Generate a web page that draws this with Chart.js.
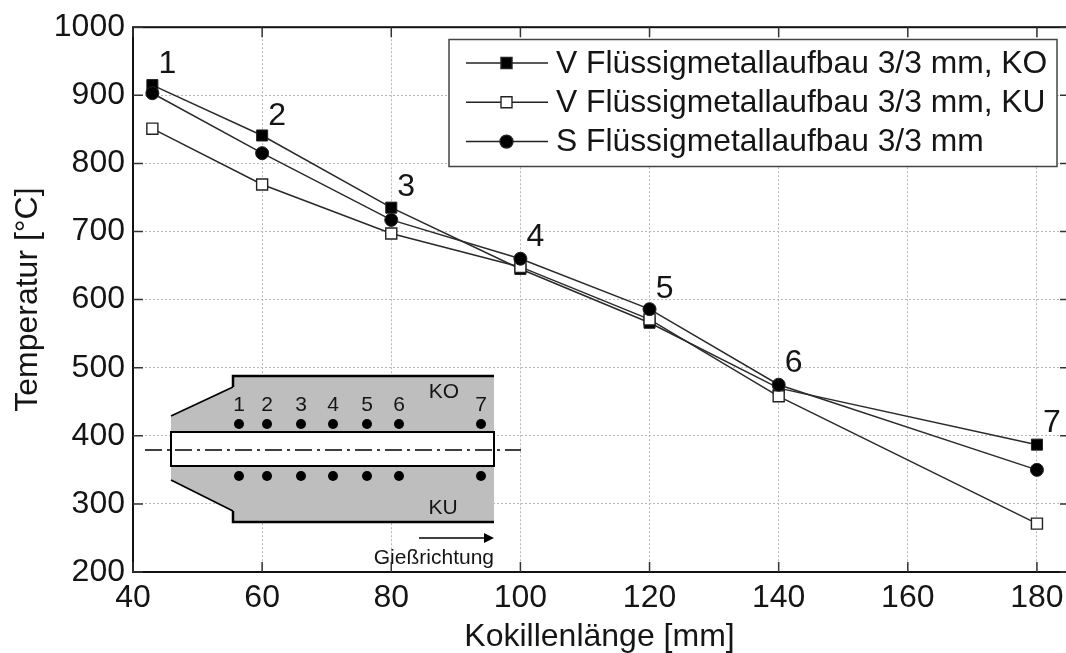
<!DOCTYPE html>
<html><head><meta charset="utf-8">
<style>html,body{margin:0;padding:0;background:#fff}canvas{display:block}</style>
<script src="https://cdn.jsdelivr.net/npm/chart.js@4"></script>
</head><body><canvas id="c" width="1066" height="653"></canvas>
<script>
const lengths=[43,60,80,100,120,140,180];
const seriesKO=[915,841,735,645,566,470,387];
const seriesKU=[851,769,697,648,571,458,271];
const seriesS=[903,815,717,660,586,475,350];
const labelKO="V Flüssigmetallaufbau 3/3 mm, KO";
const labelKU="V Flüssigmetallaufbau 3/3 mm, KU";
const labelS="S Flüssigmetallaufbau 3/3 mm";
const pointNumbers=["1","2","3","4","5","6","7"];
const numberOffsets=[[15,-21],[15,-19],[15,-20],[15,-32],[15,-34],[15,-25],[15,-21]];
const FONT='"Liberation Sans", Arial, sans-serif';
const INK='#151515';
const GRID='#b8b8b8';
const pts=a=>a.map((y,i)=>({x:lengths[i],y}));
const ds=(label,data,style,fill,r,order)=>({label,order,data:pts(data),borderColor:'#2a2a2a',borderWidth:1.5,tension:0,
  pointStyle:style,pointRadius:r,pointHoverRadius:r,pointBackgroundColor:fill,pointBorderColor:'#222',pointBorderWidth:style==='rect'&&fill==='#fff'?1.4:1,clip:false});
const extras={id:'extras',
 afterDraw(ch){
  const c=ch.ctx,a=ch.chartArea,X=ch.scales.x,Y=ch.scales.y,W=ch.width;
  c.save();
  c.strokeStyle=GRID;c.lineWidth=1;c.setLineDash([2,2]);
  Y.ticks.forEach(t=>{const p=Y.getPixelForValue(t.value);c.beginPath();c.moveTo(a.right,p);c.lineTo(W,p);c.stroke();});
  c.setLineDash([]);
  c.strokeStyle='#111';c.lineWidth=2;c.strokeRect(a.left,a.top,W+4-a.left,a.bottom-a.top);
  c.lineWidth=1.5;c.strokeStyle='#333';
  X.ticks.forEach(t=>{const p=X.getPixelForValue(t.value);c.beginPath();c.moveTo(p,a.bottom);c.lineTo(p,a.bottom-10);c.moveTo(p,a.top);c.lineTo(p,a.top+10);c.stroke();});
  Y.ticks.forEach(t=>{const p=Y.getPixelForValue(t.value);c.beginPath();c.moveTo(a.left,p);c.lineTo(a.left+10,p);c.moveTo(W,p);c.lineTo(W-6,p);c.stroke();});
  c.fillStyle=INK;c.font='32px '+FONT;c.textAlign='center';c.textBaseline='middle';
  pointNumbers.forEach((n,i)=>{c.fillText(n,X.getPixelForValue(lengths[i])+numberOffsets[i][0],Y.getPixelForValue(seriesKO[i])+numberOffsets[i][1]);});
  const L={x:449,y:39.5,w:608,h:127};
  c.fillStyle='#fff';c.fillRect(L.x,L.y,L.w,L.h);c.strokeStyle='#444';c.lineWidth=1.5;c.strokeRect(L.x,L.y,L.w,L.h);
  const rows=[[labelKO,'sq','#000'],[labelKU,'sq','#fff'],[labelS,'ci','#000']];
  rows.forEach((r,i)=>{const y=63+i*39.3;
    c.strokeStyle='#222';c.lineWidth=1.5;c.beginPath();c.moveTo(466,y);c.lineTo(548,y);c.stroke();
    c.fillStyle=r[2];c.strokeStyle='#222';c.lineWidth=1.4;c.beginPath();
    if(r[1]==='sq')c.rect(501,y-5.5,11,11);else c.arc(506.5,y,6.5,0,7);c.fill();c.stroke();
    c.fillStyle=INK;c.font='31.8px '+FONT;c.textAlign='left';c.fillText(r[0],556,y+1);});
  c.fillStyle='#bebebe';c.strokeStyle='#000';
  c.beginPath();c.moveTo(171,432);c.lineTo(171,416);c.lineTo(233,387);c.lineTo(233,376);c.lineTo(494,376);c.lineTo(494,432);c.closePath();c.fill();
  c.beginPath();c.moveTo(171,466);c.lineTo(171,480);c.lineTo(233,511);c.lineTo(233,522);c.lineTo(494,522);c.lineTo(494,466);c.closePath();c.fill();
  c.lineWidth=2.5;c.beginPath();c.moveTo(233,387);c.lineTo(233,376);c.lineTo(494,376);c.moveTo(233,511);c.lineTo(233,522);c.lineTo(494,522);c.stroke();
  c.lineWidth=1.8;c.beginPath();c.moveTo(171,416);c.lineTo(233,387);c.moveTo(171,480);c.lineTo(233,511);c.stroke();
  c.fillStyle='#fff';c.fillRect(171,432,323,34);c.lineWidth=2;c.strokeRect(171,432,323,34);
  c.setLineDash([17,5,3,5]);c.lineWidth=1.5;c.beginPath();c.moveTo(145,450);c.lineTo(521,450);c.stroke();c.setLineDash([]);
  const sensorX=[239,267,301,333,367,399,481];
  c.fillStyle='#000';sensorX.forEach(x=>{[424,476].forEach(y=>{c.beginPath();c.arc(x,y,5,0,7);c.fill();});});
  c.fillStyle=INK;c.font='21px '+FONT;c.textAlign='center';
  sensorX.forEach((x,i)=>c.fillText(pointNumbers[i],x,405));
  c.fillText('KO',444,392);c.fillText('KU',443,508);
  c.textAlign='right';c.fillText('Gießrichtung',494,558);
  c.fillStyle='#000';c.lineWidth=1.5;c.beginPath();c.moveTo(419,538);c.lineTo(486,538);c.stroke();
  c.beginPath();c.moveTo(494,538);c.lineTo(484,533);c.lineTo(484,543);c.closePath();c.fill();
  c.restore();
 }};
new Chart(document.getElementById('c'),{type:'line',plugins:[extras],
 data:{datasets:[ds(labelKO,seriesKO,'rect','#000',7.8,2),ds(labelKU,seriesKU,'rect','#fff',7.8,1),ds(labelS,seriesS,'circle','#000',6.5,0)]},
 options:{responsive:false,animation:false,
  layout:{autoPadding:false,padding:{top:26,right:0,left:0,bottom:0}},
  plugins:{legend:{display:false},tooltip:{enabled:false}},
  scales:{
   x:{type:'linear',min:40,max:184.5,afterFit:s=>{s.height=81;s.paddingRight=0;s.paddingLeft=0;},
    ticks:{stepSize:20,includeBounds:false,maxRotation:0,color:INK,font:{family:FONT,size:32},padding:7},
    grid:{color:GRID,drawTicks:false},border:{display:false,dash:[2,2]},
    title:{display:true,text:'Kokillenlänge [mm]',color:INK,font:{family:FONT,size:32,lineHeight:1},padding:{top:0,bottom:0}}},
   y:{min:200,max:1000,afterFit:s=>{s.width=133;},
    ticks:{stepSize:100,color:INK,font:{family:FONT,size:32},padding:8,callback:v=>String(v)},
    grid:{color:GRID,drawTicks:false},border:{display:false,dash:[2,2]},
    title:{display:true,text:'Temperatur [°C]',color:INK,font:{family:FONT,size:32,lineHeight:1},padding:{top:12,bottom:0}}}
  }}});
</script></body></html>
